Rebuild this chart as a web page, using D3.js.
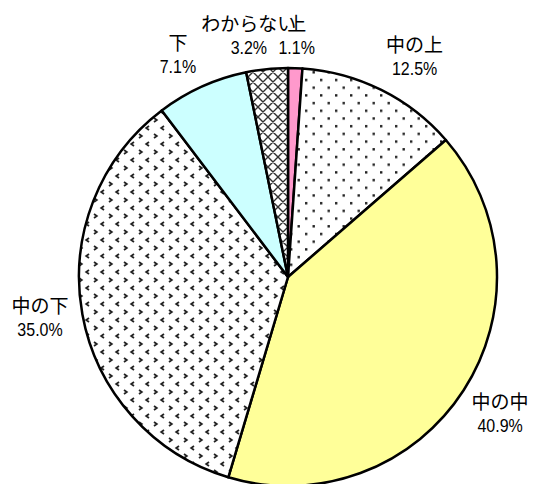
<!DOCTYPE html>
<html><head><meta charset="utf-8">
<script src="https://cdn.jsdelivr.net/npm/d3@7"></script>
<style>body{margin:0;background:#fff}</style>
</head><body>
<svg id="chart" width="535" height="484"></svg>
<script>
const categories = ["上", "中の上", "中の中", "中の下", "下", "わからない"];
const values = [1.1, 12.5, 40.9, 35.0, 7.1, 3.2];
const pctLabels = ["1.1%", "12.5%", "40.9%", "35.0%", "7.1%", "3.2%"];
const fills = ["#ff99cc", "url(#dots)", "#ffff99", "url(#zig)", "#ccffff", "url(#cross)"];

const W = 535, H = 484, cx = 288, cy = 277, R = 209;
// label placement tweaks (Excel-style manual label positions), px
const labelNudge = [[0, 8], [15, 3], [2, 1], [-2, -4], [-7, 5], [-14, 7]];

const svg = d3.select("#chart");
const defs = svg.append("defs");

// dots pattern
const pd = defs.append("pattern").attr("id", "dots").attr("patternUnits", "userSpaceOnUse")
  .attr("width", 15).attr("height", 15.4);
pd.append("rect").attr("width", 15).attr("height", 15.4).attr("fill", "#fff");
pd.append("rect").attr("x", 2).attr("y", 2).attr("width", 2.4).attr("height", 2.4).attr("fill", "#222");
pd.append("rect").attr("x", 9.5).attr("y", 9.7).attr("width", 2.4).attr("height", 2.4).attr("fill", "#222");

// zigzag pattern
const pz = defs.append("pattern").attr("id", "zig").attr("patternUnits", "userSpaceOnUse")
  .attr("width", 15).attr("height", 16);
pz.append("rect").attr("width", 15).attr("height", 16).attr("fill", "#fff");
pz.append("path").attr("d", "M1,1 L3.8,3 L1,5").attr("fill", "none").attr("stroke", "#222").attr("stroke-width", 1.8);
pz.append("path").attr("d", "M11,9 L8.2,11 L11,13").attr("fill", "none").attr("stroke", "#222").attr("stroke-width", 1.8);

// crosshatch pattern
const pc = defs.append("pattern").attr("id", "cross").attr("patternUnits", "userSpaceOnUse")
  .attr("width", 10).attr("height", 10);
pc.append("rect").attr("width", 10).attr("height", 10).attr("fill", "#fff");
pc.append("path").attr("d", "M0,0 L10,10 M10,0 L0,10 M-1,9 L1,11 M9,-1 L11,1 M-1,1 L1,-1 M9,11 L11,9")
  .attr("stroke", "#333").attr("stroke-width", 1.4);

const data = categories.map((c, i) => ({ name: c, value: values[i], pct: pctLabels[i], fill: fills[i], nudge: labelNudge[i] }));
const pie = d3.pie().sort(null).value(d => d.value).startAngle(0).endAngle(2 * Math.PI);
const arcs = pie(data);
const arc = d3.arc().innerRadius(0).outerRadius(R);

const g = svg.append("g").attr("transform", `translate(${cx},${cy})`);
g.selectAll("path.slice").data(arcs).enter().append("path")
  .attr("class", "slice")
  .attr("d", arc)
  .attr("fill", d => d.data.fill)
  .attr("stroke", "#000").attr("stroke-width", 2.5).attr("stroke-linejoin", "round");

const labelR = 250;
const lab = g.selectAll("g.lab").data(arcs).enter().append("g").attr("class", "lab")
  .attr("transform", d => {
    const a = (d.startAngle + d.endAngle) / 2;
    return `translate(${labelR * Math.sin(a) + d.data.nudge[0]},${-labelR * Math.cos(a) + d.data.nudge[1]})`;
  });
lab.append("text").attr("text-anchor", "middle").attr("y", -4.5)
  .attr("font-family", "'Noto Sans CJK JP', sans-serif").attr("font-size", 19)
  .attr("fill", "#000").text(d => d.data.name);
lab.append("text").attr("text-anchor", "middle").attr("transform", "translate(0,18.5) scale(1,1.15)")
  .attr("font-family", "'Liberation Sans', Arial, sans-serif").attr("font-size", 16)
  .attr("fill", "#000").text(d => d.data.pct);
</script>
</body></html>
